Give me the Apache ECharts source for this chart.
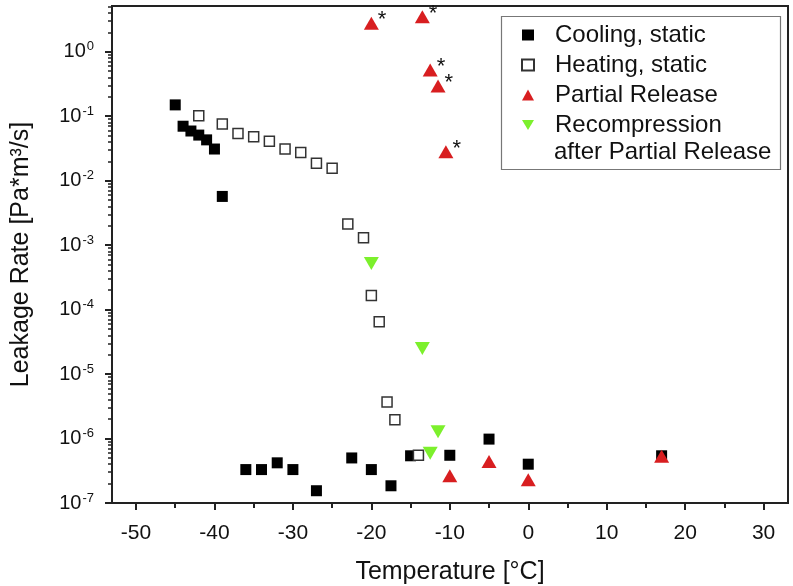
<!DOCTYPE html>
<head>
    <meta charset="utf-8">
    <title>Leakage Rate vs Temperature</title>
    <script src="https://cdn.jsdelivr.net/npm/echarts@6/dist/echarts.min.js"></script>
    <style>
        html, body{
            margin: 0;
            background: #fff;
        }
        #chart{
            width: 793px;
            height: 586px;
        }
    </style>
</head>
<body>
    <div id="chart"></div>
    <script>
        // Cooling, static
        var coolT = [-45, -44, -43, -42, -41, -40, -39, -36, -34, -32, -30, -27, -22.5, -20, -17.5, -15, -10, -5, 0, 17];
        var coolRate = [0.15, 0.07, 0.059, 0.051, 0.043, 0.031, 0.0057, 3.3e-7, 3.3e-7, 4.2e-7, 3.3e-7, 1.55e-7, 5.0e-7, 3.3e-7, 1.85e-7, 5.4e-7, 5.5e-7, 9.8e-7, 4.0e-7, 5.4e-7];
        // Heating, static
        var heatT = [-42, -39, -37, -35, -33, -31, -29, -27, -25, -23, -21, -20, -19, -18, -17, -14];
        var heatRate = [0.102, 0.076, 0.054, 0.048, 0.041, 0.031, 0.0275, 0.0186, 0.0156, 0.00213, 0.0013, 1.65e-4, 6.5e-5, 3.7e-6, 1.95e-6, 5.5e-7];
        // Partial Release (star = marked with *)
        var partT = [-20, -13.5, -12.5, -11.5, -10.5, -10, -5, 0, 17];
        var partRate = [2.76, 3.49, 0.52, 0.294, 0.028, 2.64e-7, 4.4e-7, 2.3e-7, 5.3e-7];
        var partStar = [1, 1, 1, 1, 1, 0, 0, 0, 0];
        // Recompression after Partial Release
        var recT = [-20, -13.5, -11.5, -12.5];
        var recRate = [5.2e-4, 2.5e-5, 1.28e-6, 5.9e-7];

        var xTicks = [-50, -40, -30, -20, -10, 0, 10, 20, 30];
        var xMinor = [-45, -35, -25, -15, -5, 5, 15, 25];
        var yTicks = [1e-7, 1e-6, 1e-5, 1e-4, 1e-3, 1e-2, 1e-1, 1];
        var yMinor = [];
        for (var e = -7; e <= 0; e++) {
            for (var m = 2; m <= 9; m++) {
                var v = m * Math.pow(10, e);
                if (v < 5.1) yMinor.push(v);
            }
        }

        function pairs(xs, ys){
            return xs.map(function(x, i){ return [x, ys[i]]; });
        }

        var font = 'Liberation Sans, Arial, sans-serif';
        var red = '#d81e20';
        var green = '#7cf02c';
        var downTri = 'path://M0,0 L20,0 L10,17 Z';

        var chart = echarts.init(document.getElementById('chart'));
        var option = {
            backgroundColor: '#fff',
            animation: false,
            textStyle: { fontFamily: font },
            grid: {
                left: 112, right: 5, top: 6, bottom: 83,
                outerBoundsMode: 'none',
                show: true, borderColor: '#222', borderWidth: 2
            },
            legend: {
                orient: 'vertical',
                left: 521, top: 21,
                padding: 0,
                itemGap: 2,
                itemWidth: 12, itemHeight: 11,
                textStyle: { fontFamily: font, fontSize: 24, color: '#111', lineHeight: 28, padding: [0, 0, 0, 16] },
                data: [
                    { name: 'Cooling, static', icon: 'rect' },
                    { name: 'Heating, static', icon: 'rect' },
                    { name: 'Partial Release', icon: 'triangle' },
                    { name: 'Recompression', icon: downTri }
                ]
            },
            graphic: [
                {
                    type: 'rect', left: 499, top: 14,
                    shape: { width: 279, height: 153 },
                    style: { fill: 'none', stroke: '#777', lineWidth: 1.2 }
                },
                {
                    type: 'text', left: 554, top: 140,
                    style: { text: 'after Partial Release', font: '24px ' + font, fill: '#111' }
                }
            ],
            xAxis: [
                {
                    type: 'value', min: -53.06, max: 33.11,
                    name: 'Temperature [°C]', nameLocation: 'middle', nameGap: 57,
                    nameTextStyle: { fontSize: 25, color: '#111', fontFamily: font },
                    axisLine: { onZero: false, lineStyle: { color: '#222', width: 2 } },
                    axisTick: { customValues: xTicks, length: 7, lineStyle: { color: '#222', width: 2 } },
                    axisLabel: { customValues: xTicks, fontSize: 21, color: '#111', margin: 20 },
                    splitLine: { show: false }
                },
                {
                    type: 'value', min: -53.06, max: 33.11, position: 'bottom',
                    axisLine: { show: false, onZero: false },
                    axisTick: { customValues: xMinor, length: 5, lineStyle: { color: '#222', width: 2 } },
                    axisLabel: { show: false },
                    splitLine: { show: false }
                }
            ],
            yAxis: [
                {
                    type: 'log', logBase: 10, min: 1e-7, max: 5.13,
                    name: 'Leakage Rate [Pa*m³/s]', nameLocation: 'middle', nameGap: 78,
                    nameTextStyle: { fontSize: 25, color: '#111', fontFamily: font },
                    axisLine: { show: true, onZero: false, lineStyle: { color: '#222', width: 2 } },
                    axisTick: { customValues: yTicks, length: 7, lineStyle: { color: '#222', width: 2 } },
                    axisLabel: {
                        customValues: yTicks, margin: 18, color: '#111',
                        formatter: function(v){
                            var ex = Math.round(Math.log10(v));
                            return '{b|10}{s|' + ex + '}';
                        },
                        rich: {
                            b: { fontSize: 20, color: '#111', fontFamily: font },
                            s: { fontSize: 13, color: '#111', fontFamily: font, padding: [0, 0, 10, 1] }
                        }
                    },
                    splitLine: { show: false }
                },
                {
                    type: 'log', logBase: 10, min: 1e-7, max: 5.13, position: 'left',
                    axisLine: { show: false, onZero: false },
                    axisTick: { customValues: yMinor, length: 4, lineStyle: { color: '#222', width: 1.5 } },
                    axisLabel: { show: false },
                    splitLine: { show: false }
                }
            ],
            series: [
                {
                    name: 'Cooling, static', type: 'scatter',
                    symbol: 'rect', symbolSize: 11,
                    itemStyle: { color: '#000', opacity: 1 },
                    data: pairs(coolT, coolRate)
                },
                {
                    name: 'Heating, static', type: 'scatter',
                    symbol: 'rect', symbolSize: 10,
                    itemStyle: { color: '#fff', borderColor: '#333', borderWidth: 1.5, opacity: 1 },
                    data: pairs(heatT, heatRate)
                },
                {
                    name: 'Partial Release', type: 'scatter',
                    symbol: 'triangle', symbolSize: [15, 13],
                    itemStyle: { color: red, opacity: 1 },
                    label: {
                        show: true, position: 'right', distance: 0, offset: [-1, -3],
                        fontSize: 22, color: '#111',
                        formatter: function(p){ return partStar[p.dataIndex] ? '*' : ''; }
                    },
                    data: pairs(partT, partRate)
                },
                {
                    name: 'Recompression', type: 'scatter',
                    symbol: downTri, symbolSize: [15, 13],
                    itemStyle: { color: green, opacity: 1 },
                    data: pairs(recT, recRate)
                }
            ]
        };
        chart.setOption(option);
    </script>
</body>
